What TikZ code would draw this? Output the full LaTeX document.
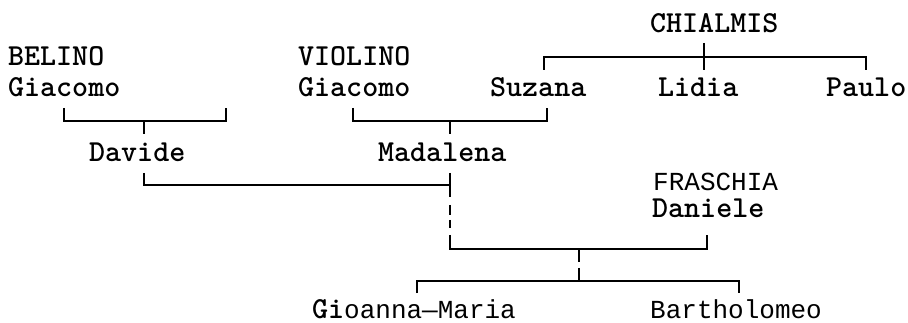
\documentclass[tikz,border=0pt]{standalone}
\usepackage{fontspec}
\newfontfamily\sansmono{Liberation Mono}
\tikzset{
  sername/.style={anchor=base west, inner sep=0pt, font=\fontsize{30.5}{32}\ttfamily\bfseries},
  sansname/.style={anchor=base west, inner sep=0pt, font=\fontsize{26}{28}\sansmono},
  link/.style={line width=1.6pt, line cap=butt, line join=miter},
}
\begin{document}
\begin{tikzpicture}[x=1pt,y=-1pt]
\useasboundingbox (0,0) rectangle (908,323);
% names
\node[sername] (chialmis) at (650,33) {CHIALMIS};
\node[sername] (belino) at (8,66) {BELINO};
\node[sername] (violino) at (298,66) {VIOLINO};
\node[sername] (giacomoA) at (8,97) {Giacomo};
\node[sername] (giacomoB) at (298,97) {Giacomo};
\node[sername] (suzana) at (490,97) {Suzana};
\node[sername] (lidia) at (658,97) {Lidia};
\node[sername] (paulo) at (826,97) {Paulo};
\node[sername] (davide) at (89,162) {Davide};
\node[sername] (madalena) at (378,162) {Madalena};
\node[sansname, text depth=0pt] (fraschia) at (653,191) {FRASCHIA};
\node[sername] (daniele) at (652,218) {Daniele};
\node[anchor=base west, inner sep=0pt] (gioanna) at (312,318) {{\fontsize{30.5}{32}\ttfamily\bfseries Gi}{\fontsize{26}{28}\sansmono oanna—Maria}};
\node[sansname] (bartholomeo) at (650,318) {Bartholomeo};
% junction coordinates
\coordinate (gA) at (64,108);   \coordinate (gAc) at (64,121);
\coordinate (gAr) at (226,108); \coordinate (gArc) at (226,121);
\coordinate (dTop) at (144,121); \coordinate (dTick) at (144,134);
\coordinate (dBot) at (144,173); \coordinate (dCor) at (144,185);
\coordinate (mJoin) at (450,185);
\coordinate (gB) at (353,108);  \coordinate (gBc) at (353,121);
\coordinate (sB) at (547,108);  \coordinate (sBc) at (547,121);
\coordinate (mTop) at (450,121); \coordinate (mTick) at (450,134);
\coordinate (mBot) at (450,173); \coordinate (mEnd) at (450,197);
\coordinate (mD1a) at (450,205); \coordinate (mD1b) at (450,215);
\coordinate (mD2a) at (450,220); \coordinate (mD2b) at (450,228);
\coordinate (mC) at (450,235);  \coordinate (mCc) at (450,249);
\coordinate (dnC) at (707,235); \coordinate (dnCc) at (707,249);
\coordinate (kTop) at (579,249); \coordinate (kA) at (579,262);
\coordinate (kB) at (579,268);  \coordinate (kBot) at (579,281);
\coordinate (gmL) at (417,293); \coordinate (gmLc) at (417,281);
\coordinate (btR) at (739,293); \coordinate (btRc) at (739,281);
\coordinate (chT) at (704,43);  \coordinate (chB) at (704,57);
\coordinate (chL) at (544,70);  \coordinate (chLc) at (544,57);
\coordinate (chR) at (866,70);  \coordinate (chRc) at (866,57);
\coordinate (lidT) at (704,70);
% connectors
\draw[link] (gA) -- (gAc) -- (gArc) -- (gAr);
\draw[link] (dTop) -- (dTick);
\draw[link] (dBot) -- (dCor) -- (mJoin);
\draw[link] (gB) -- (gBc) -- (sBc) -- (sB);
\draw[link] (mTop) -- (mTick);
\draw[link] (mBot) -- (mEnd);
\draw[link] (mD1a) -- (mD1b);
\draw[link] (mD2a) -- (mD2b);
\draw[link] (mC) -- (mCc) -- (dnCc) -- (dnC);
\draw[link] (kTop) -- (kA);
\draw[link] (kB) -- (kBot);
\draw[link] (gmL) -- (gmLc) -- (btRc) -- (btR);
\draw[link] (chT) -- (lidT);
\draw[link] (chL) -- (chLc) -- (chRc) -- (chR);
\end{tikzpicture}
\end{document}
